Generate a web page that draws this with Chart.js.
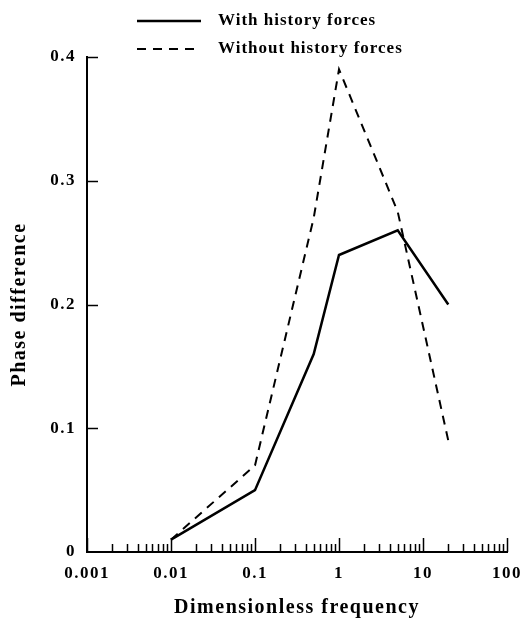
<!DOCTYPE html>
<html>
<head>
<meta charset="utf-8">
<script src="https://cdn.jsdelivr.net/npm/chart.js@4"></script>
<style>
  html, body { margin: 0; padding: 0; background: #fff; }
  #wrap { width: 522px; height: 620px; }
</style>
</head>
<body>
<div id="wrap"><canvas id="chart" width="522" height="620"></canvas></div>
<script>
// values
const frequency = [0.01, 0.1, 0.5, 1, 5, 20];
const withHistory = [0.01, 0.05, 0.16, 0.24, 0.26, 0.20];
const withoutHistory = [0.01, 0.07, 0.27, 0.39, 0.275, 0.09];

const xDecades = [0.001, 0.01, 0.1, 1, 10, 100];
const xTickLabels = ['0.001', '0.01', '0.1', '1', '10', '100'];
const yTicks = [0, 0.1, 0.2, 0.3, 0.4];
const yTickLabels = ['0', '0.1', '0.2', '0.3', '0.4'];

const serif = "'Liberation Serif', 'DejaVu Serif', serif";

// log ticks: 1..9 per decade
const xTickValues = [];
xDecades.forEach((d, i) => {
  if (i === xDecades.length - 1) { xTickValues.push(d); return; }
  for (let m = 1; m <= 9; m++) xTickValues.push(+(m * d).toPrecision(3));
});

function pts(ys) {
  return frequency.map((f, i) => ({ x: f, y: ys[i] }));
}

// the scanned figure has wide, spaced-out type
const spacing = {
  id: 'spacing',
  beforeUpdate(chart) { chart.ctx.letterSpacing = '1.5px'; },
  beforeDraw(chart) { chart.ctx.letterSpacing = '1.5px'; }
};

// tick marks point into the plot, like the original
const innerTicks = {
  id: 'innerTicks',
  afterDraw(chart) {
    const { ctx, chartArea, scales } = chart;
    ctx.save();
    ctx.strokeStyle = '#000';
    ctx.lineWidth = 1.5;
    scales.x.ticks.forEach(t => {
      const px = Math.round(scales.x.getPixelForValue(t.value)) + 0.5;
      const major = xDecades.some(d => Math.abs(d - t.value) / d < 1e-6);
      const len = major ? 14 : 8;
      ctx.beginPath();
      ctx.moveTo(px, chartArea.bottom);
      ctx.lineTo(px, chartArea.bottom - len);
      ctx.stroke();
    });
    scales.y.ticks.forEach(t => {
      if (t.value === 0) return;
      const py = Math.round(scales.y.getPixelForValue(t.value)) + 0.5;
      ctx.beginPath();
      ctx.moveTo(chartArea.left, py);
      ctx.lineTo(chartArea.left + 11, py);
      ctx.stroke();
    });
    ctx.restore();
  }
};

// legend stacked above the plot
const topLegend = {
  id: 'topLegend',
  afterDraw(chart) {
    const { ctx } = chart;
    ctx.save();
    ctx.font = 'bold 17px ' + serif;
    ctx.letterSpacing = '1px';
    ctx.textBaseline = 'middle';
    ctx.fillStyle = '#000';
    chart.data.datasets.forEach((ds, i) => {
      const y = 21 + i * 28;
      ctx.strokeStyle = ds.borderColor;
      ctx.lineWidth = ds.borderWidth;
      ctx.setLineDash(ds.borderDash || []);
      ctx.beginPath();
      ctx.moveTo(137, y);
      ctx.lineTo(201, y);
      ctx.stroke();
      ctx.setLineDash([]);
      ctx.fillText(ds.label, 218, y);
    });
    ctx.restore();
  }
};

new Chart(document.getElementById('chart'), {
  type: 'line',
  data: {
    datasets: [
      {
        label: 'With history forces',
        data: pts(withHistory),
        borderColor: '#000',
        borderWidth: 2.5,
        pointRadius: 0,
        tension: 0
      },
      {
        label: 'Without history forces',
        data: pts(withoutHistory),
        borderColor: '#000',
        borderWidth: 2,
        borderDash: [9, 7],
        pointRadius: 0,
        tension: 0
      }
    ]
  },
  options: {
    responsive: false,
    animation: false,
    layout: { padding: { top: 57, right: 15, left: 0, bottom: 0 } },
    plugins: { legend: { display: false }, tooltip: { enabled: false } },
    scales: {
      x: {
        type: 'logarithmic',
        min: 0.001,
        max: 100,
        afterBuildTicks: s => { s.ticks = xTickValues.map(v => ({ value: v })); },
        afterFit: s => { s.height = 68; s.paddingLeft = 0; s.paddingRight = 0; },
        grid: { display: false, drawTicks: false },
        border: { display: true, color: '#000', width: 2 },
        ticks: {
          autoSkip: false,
          maxRotation: 0,
          padding: 11,
          color: '#000',
          font: { family: serif, size: 17, weight: 'bold' },
          callback: (v) => {
            const i = xDecades.findIndex(d => Math.abs(d - v) / d < 1e-6);
            return i >= 0 ? xTickLabels[i] : '';
          }
        },
        title: {
          display: true,
          text: 'Dimensionless frequency',
          color: '#000',
          font: { family: serif, size: 20, weight: 'bold' },
          padding: { top: 0, bottom: 0 }
        }
      },
      y: {
        type: 'linear',
        min: 0,
        max: 0.4,
        afterBuildTicks: s => { s.ticks = yTicks.map(v => ({ value: v })); },
        afterFit: s => { s.width = 87; s.paddingTop = 0; s.paddingBottom = 0; },
        grid: { display: false, drawTicks: false },
        border: { display: true, color: '#000', width: 2 },
        ticks: {
          padding: 11,
          color: '#000',
          font: { family: serif, size: 17, weight: 'bold' },
          callback: (v, i) => yTickLabels[i]
        },
        title: {
          display: true,
          text: 'Phase difference',
          color: '#000',
          font: { family: serif, size: 20, weight: 'bold' },
          padding: { top: 8, bottom: 0 }
        }
      }
    }
  },
  plugins: [spacing, innerTicks, topLegend]
});
</script>
</body>
</html>
